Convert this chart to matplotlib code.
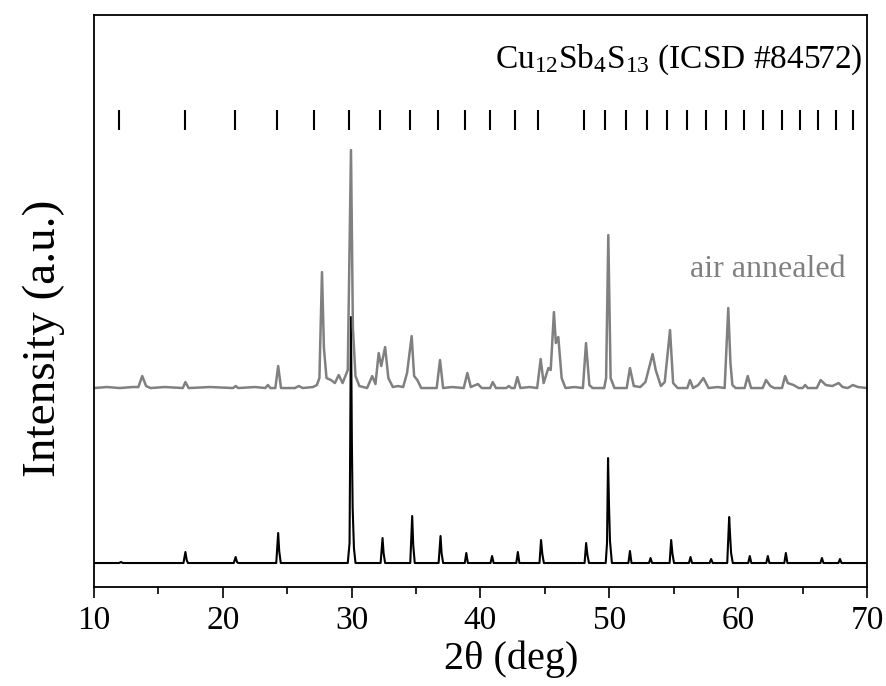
import matplotlib.pyplot as plt
import numpy as np
from matplotlib.ticker import MultipleLocator

plt.rcParams['font.family'] = ['Liberation Serif', 'DejaVu Serif']
plt.rcParams['mathtext.fontset'] = 'custom'
plt.rcParams['mathtext.rm'] = 'Liberation Serif'
plt.rcParams['mathtext.it'] = 'Liberation Serif:italic'

# reference pattern Cu12Sb4S13 (2theta, intensity) vertices
ref_pts = [
    (10, 0), (11.95, 0), (12.1, 1), (12.25, 0),
    (16.95, 0), (17.1, 11), (17.2, 3), (17.3, 0),
    (20.85, 0), (21.0, 6), (21.1, 1), (21.2, 0),
    (24.15, 0), (24.3, 30), (24.38, 12), (24.5, 0),
    (29.7, 0), (29.84, 20), (29.95, 246), (30.02, 120), (30.08, 55), (30.18, 15), (30.3, 0),
    (32.25, 0), (32.4, 25), (32.48, 10), (32.6, 0),
    (34.55, 0), (34.7, 47), (34.78, 18), (34.9, 0),
    (36.75, 0), (36.9, 27), (36.98, 10), (37.1, 0),
    (38.78, 0), (38.9, 10), (39.02, 0),
    (40.78, 0), (40.9, 7), (41.02, 0),
    (42.78, 0), (42.9, 11), (43.02, 0),
    (44.58, 0), (44.7, 23), (44.8, 9), (44.92, 0),
    (48.08, 0), (48.2, 20), (48.3, 8), (48.42, 0),
    (49.72, 0), (49.82, 20), (49.9, 105), (49.97, 60), (50.05, 22), (50.2, 0),
    (51.48, 0), (51.6, 12), (51.72, 0),
    (53.08, 0), (53.2, 5), (53.32, 0),
    (54.68, 0), (54.8, 23), (54.9, 9), (55.02, 0),
    (56.18, 0), (56.3, 6), (56.42, 0),
    (57.78, 0), (57.9, 4), (58.02, 0),
    (59.15, 0), (59.3, 46), (59.37, 28), (59.45, 10), (59.58, 0),
    (60.78, 0), (60.9, 7), (61.02, 0),
    (62.18, 0), (62.3, 7), (62.42, 0),
    (63.58, 0), (63.7, 10), (63.82, 0),
    (66.38, 0), (66.5, 5), (66.62, 0),
    (67.78, 0), (67.9, 4), (68.02, 0),
    (70, 0),
]

# air annealed film (2theta, intensity)
air_pts = [
    (10, 0), (11, 1), (12, 0), (13.0, 1), (13.45, 1), (13.75, 12), (14.05, 2), (14.4, 0),
    (15.5, 1), (16.9, 0), (17.1, 6), (17.35, 0), (19.0, 1),
    (20.8, 0), (21.0, 2), (21.2, 0), (22.5, 1),
    (23.3, 0), (23.5, 3), (23.7, 0),
    (24.08, 0), (24.3, 22), (24.52, 0),
    (25.6, 0), (25.9, 2), (26.2, 0), (27.0, 1),
    (27.3, 3), (27.5, 10), (27.7, 116), (27.85, 40), (28.05, 10), (28.4, 8), (28.7, 5),
    (29.0, 13), (29.3, 5), (29.7, 18), (29.95, 238), (30.1, 60), (30.3, 12), (30.6, 2),
    (31.2, 0), (31.6, 12), (31.85, 4), (32.1, 35), (32.3, 22), (32.6, 41), (32.85, 10),
    (33.2, 1), (33.6, 2), (34.0, 1), (34.3, 15), (34.66, 52), (34.85, 12), (35.1, 8), (35.4, 0),
    (36.6, 0), (36.86, 28), (37.1, 0), (37.8, 1),
    (38.7, 0), (38.98, 15), (39.25, 1), (39.8, 4), (40.1, 0),
    (40.75, 0), (40.95, 6), (41.2, 0),
    (42.0, 0), (42.2, 2), (42.4, 0),
    (42.65, 0), (42.86, 11), (43.1, 0), (43.8, 1),
    (44.4, 0), (44.67, 29), (44.9, 5), (45.27, 20), (45.45, 18), (45.7, 76), (45.85, 45),
    (46.04, 51), (46.3, 10), (46.6, 0), (47.3, 1),
    (47.95, 0), (48.19, 45), (48.45, 3), (48.7, 0),
    (49.6, 0), (49.75, 10), (49.92, 153), (50.1, 10), (50.4, 0),
    (51.35, 0), (51.6, 20), (51.9, 2), (52.4, 1),
    (52.8, 6), (53.36, 34), (53.6, 18), (54.0, 2), (54.3, 6), (54.71, 58), (54.95, 5), (55.3, 0),
    (56.05, 0), (56.26, 8), (56.5, 0),
    (56.9, 3), (57.3, 10), (57.7, 0), (58.4, 1),
    (58.95, 0), (59.23, 80), (59.4, 25), (59.55, 3), (59.8, 0),
    (60.5, 0), (60.74, 12), (61.0, 0),
    (61.9, 0), (62.16, 8), (62.5, 2), (62.8, 0),
    (63.4, 0), (63.64, 12), (63.85, 5), (64.3, 3), (64.7, 0),
    (65.0, 0), (65.2, 3), (65.4, 0),
    (66.1, 0), (66.4, 8), (66.8, 3), (67.3, 2), (67.8, 5), (68.1, 1), (68.5, 0),
    (68.9, 3), (69.3, 1), (70, 0),
]

# ICSD #84572 reflection positions
icsd_pos = [11.96, 17.06, 20.94, 24.23, 27.10, 29.77, 32.21, 34.54, 36.74, 38.80,
            40.74, 42.68, 44.49, 48.03, 49.66, 51.30, 52.90, 54.50, 56.01, 57.50,
            59.03, 60.48, 61.90, 63.38, 64.80, 66.22, 67.59, 68.94]

ref_tt, ref_I = np.array(ref_pts).T
air_tt, air_I = np.array(air_pts).T

ref_offset = 24
air_offset = 199

fig = plt.figure(figsize=(8.86, 6.86), dpi=100)
ax = fig.add_axes([0.106, 0.1443, 0.8726, 0.8337])

ax.plot(ref_tt, ref_I + ref_offset, color='black', lw=1.5)
ax.plot(air_tt, air_I + air_offset, color='#808080', lw=1.8)
ax.vlines(icsd_pos, 457, 477, color='black', lw=1.5)

ax.text(69.6, 527, r'Cu$_{12}$Sb$_4$S$_{13}$ (ICSD #84572)', ha='right', va='center',
        fontsize=24)
ax.text(68.3, 318, 'air annealed', ha='right', va='center', fontsize=23, color='#808080')

ax.set_xlim(10, 70)
ax.set_ylim(0, 572)
ax.xaxis.set_major_locator(MultipleLocator(10))
ax.xaxis.set_minor_locator(MultipleLocator(5))
ax.tick_params(axis='x', which='major', length=8, width=1.2, labelsize=24, pad=5)
ax.tick_params(axis='x', which='minor', length=5, width=1.2)
ax.set_yticks([])
for s in ax.spines.values():
    s.set_linewidth(1.3)

ax.set_xlabel('2θ (deg)', fontsize=29)
ax.xaxis.set_label_coords(0.54, -0.094)
ax.set_ylabel('Intensity (a.u.)', fontsize=34)
ax.yaxis.set_label_coords(-0.038, 0.435)

fig.savefig('out.png', dpi=100)
